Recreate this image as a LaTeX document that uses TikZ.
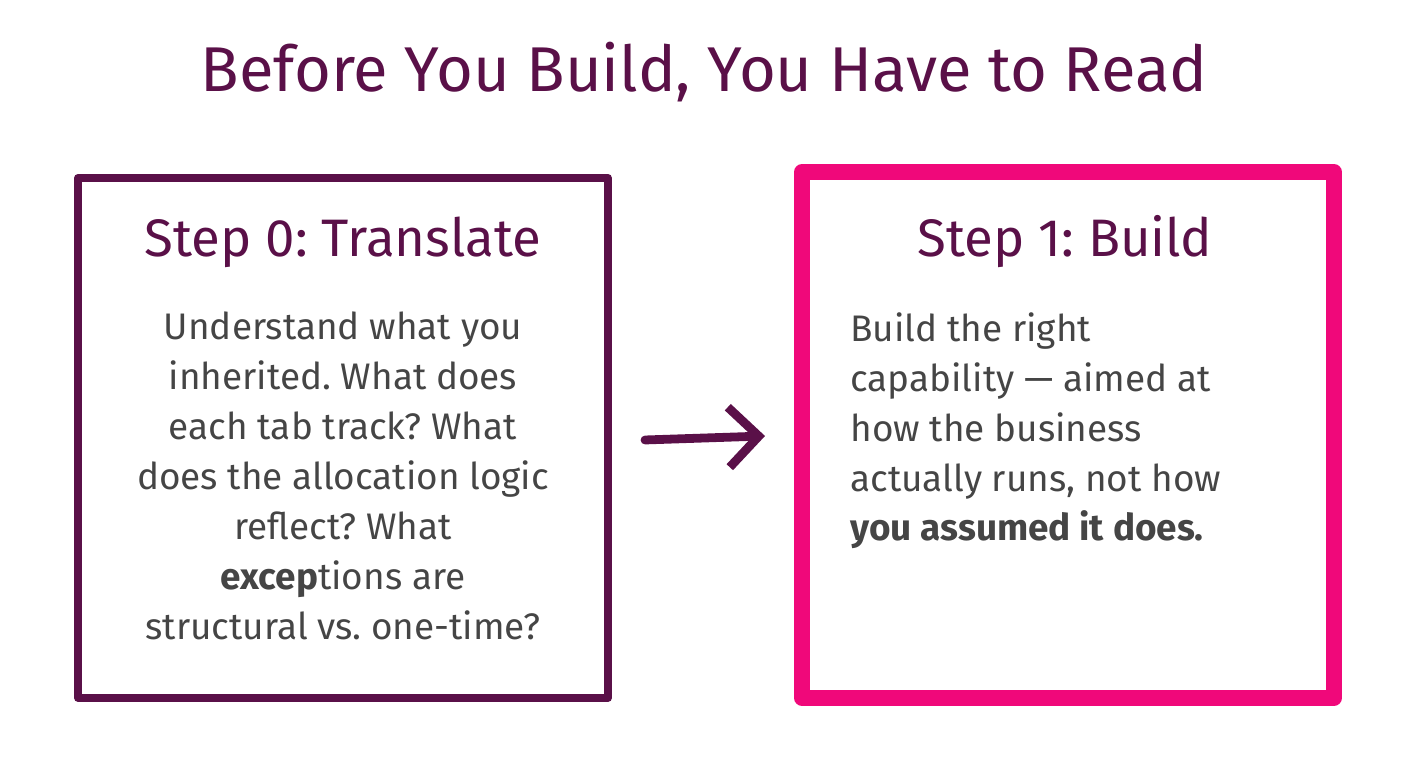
\documentclass[tikz,border=0pt]{standalone}
\usepackage{fontspec}
\setmainfont{Fira Sans}
\usetikzlibrary{positioning,arrows.meta}
\definecolor{plum}{HTML}{5A1048}
\definecolor{hotpink}{HTML}{F0087A}
\definecolor{ink}{HTML}{454545}
\begin{document}
\frenchspacing
\begin{tikzpicture}[x=0.01cm,y=-0.01cm]
\tikzset{
  step box/.style={draw, inner sep=0pt, line join=round},
  step head/.style={text=plum, font=\fontsize{15}{18}\selectfont},
  step body/.style={text=ink, font=\fontsize{10.5}{14.2}\selectfont},
}
\useasboundingbox (0,0) rectangle (1408,768);
% title
\node (title) at (704,72) [text=plum, font=\fontsize{18}{22}\selectfont] {Before You Build, You Have to Read};
% left box
\draw [plum, line width=2.2pt, step box] (78,178) rectangle (608,698);
\node (lhead) at (343,242) [step head] {Step 0: Translate};
\node (lbody) at (343,476) [step body, align=center] {Understand what you\\inherited. What does\\each tab track? What\\does the allocation logic\\reflect? What\\\textbf{excep}tions are\\structural vs. one-time?};
% right box
\draw [hotpink, line width=4.5pt, step box] (802,172) rectangle (1334,698);
\node (rhead) at (1065,242) [step head] {Step 1: Build};
\node (rbody) [step body, align=left, anchor=north west] at (838,300) {Build the right\\capability — aimed at\\how the business\\actually runs, not how\\\textbf{you assumed it does.}};
% arrow
\coordinate (a1) at (645,440);
\coordinate (a2) at (765,436);
\draw [plum, line width=2.5pt, line cap=round, -{Straight Barb[length=3mm,width=6mm]}] (a1) -- (a2);
\end{tikzpicture}
\end{document}
